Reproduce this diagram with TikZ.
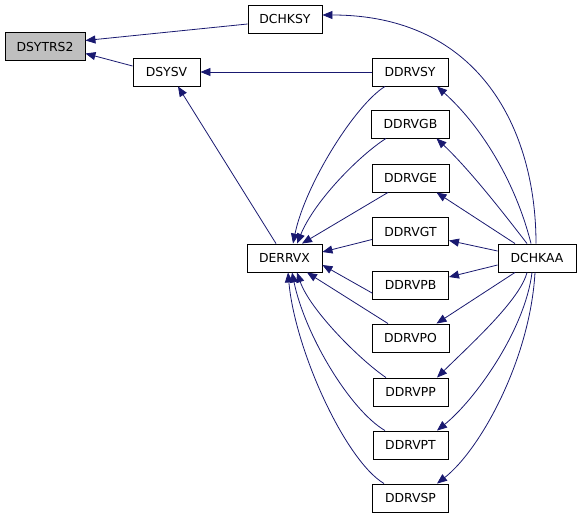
\documentclass[tikz,border=0pt]{standalone}
\usepackage{fontspec}
\setmainfont{DejaVu Sans}
\usetikzlibrary{arrows.meta}
\definecolor{edgecol}{HTML}{191970}
\tikzset{
  box/.style={draw=black, line width=0.9pt, minimum height=28pt, inner xsep=3pt, inner ysep=2pt,
    font=\fontsize{12.4}{14}\selectfont, fill=white},
  callee/.style={box, fill=black!25},
  edge/.style={draw=edgecol, line width=0.8pt, -{Triangle[length=10pt,width=8pt]}},
}
\begin{document}
\begin{tikzpicture}[x=1pt,y=-1pt]
\useasboundingbox (0,0) rectangle (581,519);
% nodes
\node[callee, minimum width=80pt] (DSYTRS2) at (45,46.5) {DSYTRS2};
\node[box, minimum width=74pt] (DCHKSY) at (285,19) {DCHKSY};
\node[box, minimum width=67pt] (DSYSV) at (166.5,72) {DSYSV};
\node[box, minimum width=75pt] (DERRVX) at (284.5,258) {DERRVX};
\node[box, minimum width=78pt] (DCHKAA) at (537,258) {DCHKAA};
\node[box, minimum width=76pt] (DDRVSY) at (410,72) {DDRVSY};
\node[box, minimum width=78pt] (DDRVGB) at (410.5,124) {DDRVGB};
\node[box, minimum width=77pt] (DDRVGE) at (410.5,178) {DDRVGE};
\node[box, minimum width=76pt] (DDRVGT) at (410.5,231.5) {DDRVGT};
\node[box, minimum width=76pt] (DDRVPB) at (410.5,285) {DDRVPB};
\node[box, minimum width=77pt] (DDRVPO) at (410.5,338) {DDRVPO};
\node[box, minimum width=75pt] (DDRVPP) at (410.5,392) {DDRVPP};
\node[box, minimum width=75pt] (DDRVPT) at (410.5,445) {DDRVPT};
\node[box, minimum width=76pt] (DDRVSP) at (410.5,498) {DDRVSP};
% edges to DSYTRS2 / DSYSV
\draw[edge] ([yshift=-5pt]DCHKSY.west) -- ([yshift=6pt]DSYTRS2.east);
\draw[edge] ([yshift=6pt]DSYSV.west) -- ([yshift=-7pt]DSYTRS2.east);
\draw[edge] (DDRVSY.west) -- (DSYSV.east);
\draw[edge] ([xshift=-8.5pt]DERRVX.north) -- ([xshift=11.5pt]DSYSV.south);
% edges to DERRVX
\draw[edge] ([xshift=-25pt]DDRVSY.south) .. controls (355,105) and (305,185) .. ([xshift=8.5pt]DERRVX.north);
\draw[edge] ([xshift=-24.5pt]DDRVGB.south) .. controls (360,155) and (315,200) .. ([xshift=12.5pt]DERRVX.north);
\draw[edge] ([xshift=-22.5pt]DDRVGE.south) -- ([xshift=17.5pt]DERRVX.north);
\draw[edge] ([yshift=-8pt]DDRVGT.west) -- ([yshift=6pt]DERRVX.east);
\draw[edge] ([yshift=-8pt]DDRVPB.west) -- ([yshift=-7pt]DERRVX.east);
\draw[edge] ([xshift=-22.5pt]DDRVPO.north) -- ([xshift=22.5pt]DERRVX.south);
\draw[edge] ([xshift=-24.5pt]DDRVPP.north) .. controls (360,360) and (310,310) .. ([xshift=12.5pt]DERRVX.south);
\draw[edge] ([xshift=-25.5pt]DDRVPT.north) .. controls (350,410) and (305,335) .. ([xshift=7.5pt]DERRVX.south);
\draw[edge] ([xshift=-26.5pt]DDRVSP.north) .. controls (345,460) and (295,350) .. ([xshift=3.5pt]DERRVX.south);
% edges from DCHKAA
\draw[edge] ([xshift=-1pt]DCHKAA.north) .. controls (536,130) and (480,15) .. ([yshift=4pt]DCHKSY.east);
\draw[edge] ([xshift=-6pt]DCHKAA.north) .. controls (515,180) and (480,125) .. ([xshift=27pt]DDRVSY.south);
\draw[edge] ([xshift=-10pt]DCHKAA.north) .. controls (505,215) and (470,170) .. ([xshift=26pt]DDRVGB.south);
\draw[edge] ([xshift=-22pt]DCHKAA.north) -- ([xshift=26pt]DDRVGE.south);
\draw[edge] ([yshift=7pt]DCHKAA.west) -- ([yshift=-9pt]DDRVGT.east);
\draw[edge] ([yshift=-7pt]DCHKAA.west) -- ([yshift=8pt]DDRVPB.east);
\draw[edge] ([xshift=-22pt]DCHKAA.south) -- ([xshift=26pt]DDRVPO.north);
\draw[edge] ([xshift=-10pt]DCHKAA.south) .. controls (520,300) and (470,345) .. ([xshift=26.5pt]DDRVPP.north);
\draw[edge] ([xshift=-5pt]DCHKAA.south) .. controls (525,330) and (475,400) .. ([xshift=26.5pt]DDRVPT.north);
\draw[edge] ([xshift=-2pt]DCHKAA.south) .. controls (530,360) and (480,450) .. ([xshift=26.5pt]DDRVSP.north);
\end{tikzpicture}
\end{document}
